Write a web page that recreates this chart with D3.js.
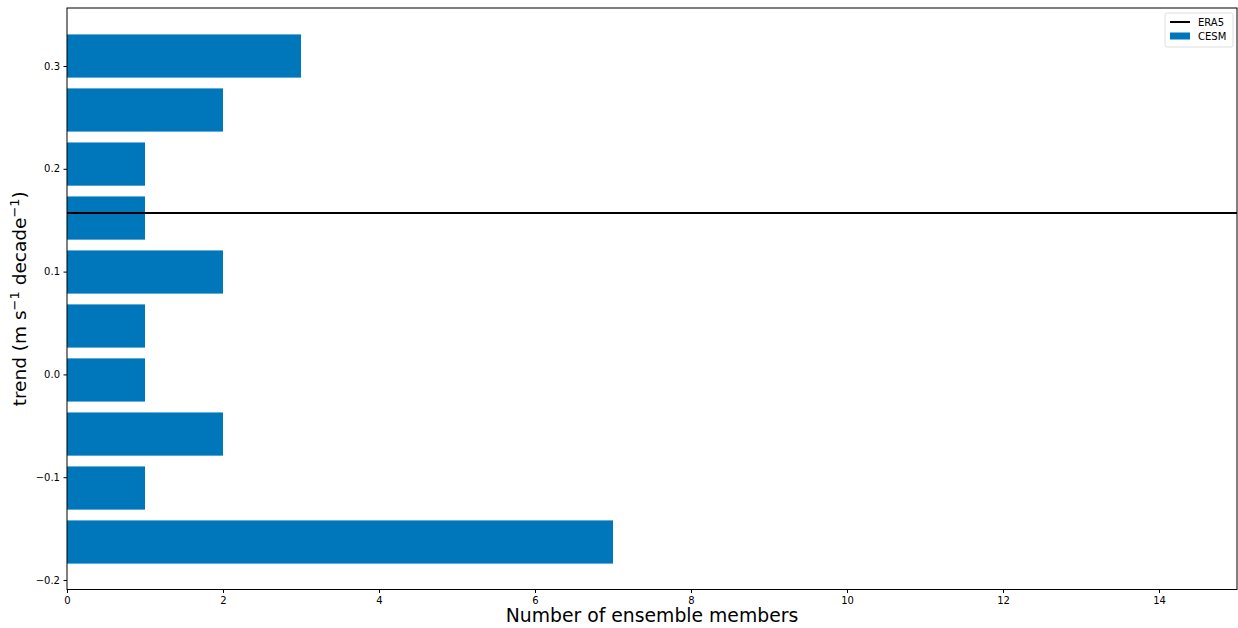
<!DOCTYPE html>
<html><head><meta charset="utf-8">
<script src="https://cdn.jsdelivr.net/npm/d3@7"></script>
<style>body{margin:0;background:#fff}svg{display:block;font-family:"DejaVu Sans",sans-serif}</style>
</head><body><svg id="c" width="1238" height="628"></svg>
<script>
// Histogram bin centres (trend, m s^-1 decade^-1) and counts
const binCenters = [-0.1630, -0.1105, -0.0580, -0.0054, 0.0471, 0.0996, 0.1521, 0.2046, 0.2572, 0.3097];
const counts     = [7, 1, 2, 1, 1, 2, 1, 1, 2, 3];
const binWidth = 0.05253;
const era5 = 0.157;
const xTicks = [0, 2, 4, 6, 8, 10, 12, 14];
const yTicks = [-0.2, -0.1, 0.0, 0.1, 0.2, 0.3];
const legendLabels = ["ERA5", "CESM"];

const svg = d3.select("#c");
const m = {l:67, r:1237, t:8, b:589.5};
const x = d3.scaleLinear().domain([0, 15]).range([m.l, m.r]);
const y = d3.scaleLinear().domain([-0.2092, 0.3564]).range([m.b, m.t]);
const blue = "#0077bb";

const g = svg.append("g");
const bars = binCenters.map((c, i) => ({c, n: counts[i]}));
g.selectAll("rect.bar").data(bars).enter().append("rect")
  .attr("x", x(0))
  .attr("y", d => y(d.c + binWidth*0.4))
  .attr("width", d => x(d.n) - x(0))
  .attr("height", d => y(d.c - binWidth*0.4) - y(d.c + binWidth*0.4))
  .attr("fill", blue);

g.append("line").attr("x1", m.l).attr("x2", m.r).attr("y1", y(era5)).attr("y2", y(era5))
  .attr("stroke", "#000").attr("stroke-width", 2);

// axes
const fmtY = d => (d < 0 ? "\u2212" : "") + Math.abs(d).toFixed(1);
const xa = svg.append("g").attr("transform", `translate(0,${m.b})`)
  .call(d3.axisBottom(x).tickValues(xTicks).tickSize(3.5).tickPadding(3.5).tickFormat(d3.format("d")));
const ya = svg.append("g").attr("transform", `translate(${m.l},0)`)
  .call(d3.axisLeft(y).tickValues(yTicks).tickSize(3.5).tickPadding(3.5).tickFormat(fmtY));
[xa, ya].forEach(a => {
  a.select(".domain").remove();
  a.selectAll("text").attr("font-size", 10).attr("fill", "#000").attr("font-family", "DejaVu Sans");
  a.selectAll("line").attr("stroke", "#000").attr("stroke-width", 1);
});

svg.append("rect").attr("x", m.l).attr("y", m.t).attr("width", m.r - m.l).attr("height", m.b - m.t)
  .attr("fill", "none").attr("stroke", "#000").attr("stroke-width", 1);

// axis labels
svg.append("text").attr("x", (m.l + m.r)/2).attr("y", 622).attr("text-anchor", "middle")
  .attr("font-size", 18.8).text("Number of ensemble members");
const yl = svg.append("text").attr("transform", `translate(26,${(m.t+m.b)/2}) rotate(-90)`)
  .attr("text-anchor", "middle").attr("font-size", 18.5);
yl.append("tspan").text("trend (m s");
yl.append("tspan").attr("dy", -7).attr("font-size", 13).text("\u22121");
yl.append("tspan").attr("dy", 7).text(" decade");
yl.append("tspan").attr("dy", -7).attr("font-size", 13).text("\u22121");
yl.append("tspan").attr("dy", 7).text(")");

// legend
const lg = svg.append("g").attr("transform", "translate(1165,13)");
lg.append("rect").attr("width", 68).attr("height", 34).attr("rx", 2).attr("fill", "#fff")
  .attr("stroke", "#d6d6d6").attr("stroke-width", 0.8);
lg.append("line").attr("x1", 5).attr("x2", 25).attr("y1", 9).attr("y2", 9).attr("stroke", "#000").attr("stroke-width", 2);
lg.append("rect").attr("x", 5).attr("y", 19.5).attr("width", 20).attr("height", 7).attr("fill", blue);
lg.selectAll("text.lt").data(legendLabels).enter().append("text")
  .attr("x", 33).attr("y", (d, i) => 12.5 + i*14.5).attr("font-size", 10).text(d => d);
</script></body></html>
